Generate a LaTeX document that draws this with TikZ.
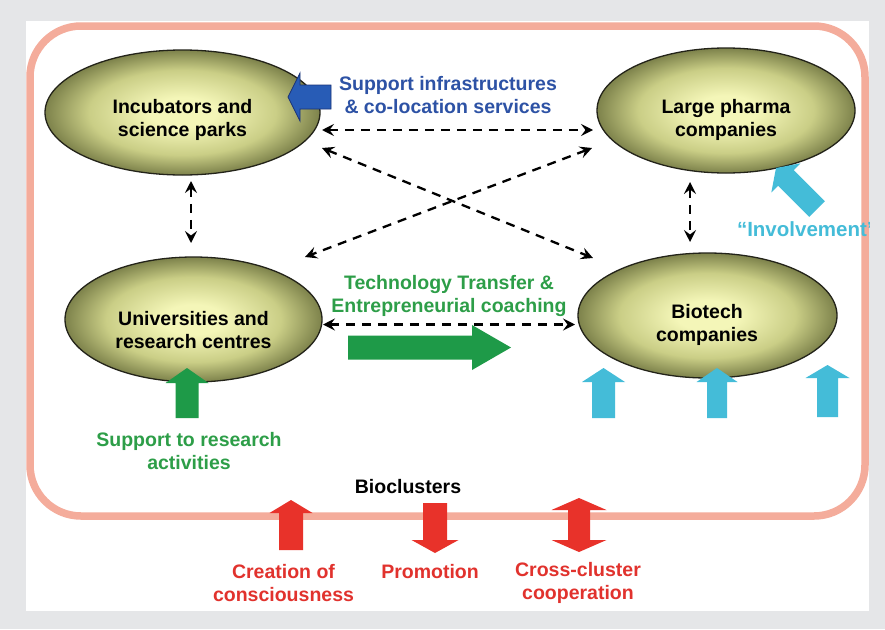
\documentclass[tikz,border=0pt]{standalone}
\usepackage{fontspec}
\setmainfont{Liberation Sans}
\usetikzlibrary{arrows.meta,shapes.geometric,calc}
\definecolor{bg}{RGB}{229,230,232}
\definecolor{band}{RGB}{244,172,155}
\definecolor{ellin}{RGB}{244,246,184}
\definecolor{ellmid}{RGB}{202,206,134}
\definecolor{ellout}{RGB}{125,130,75}
\definecolor{ellline}{RGB}{35,35,25}
\definecolor{bluetxt}{RGB}{45,82,165}
\definecolor{bluearr}{RGB}{40,92,182}
\definecolor{blueedge}{RGB}{25,50,120}
\definecolor{greentxt}{RGB}{45,158,72}
\definecolor{greenarr}{RGB}{30,154,72}
\definecolor{cyanarr}{RGB}{68,188,216}
\definecolor{redarr}{RGB}{232,50,42}
\definecolor{redtxt}{RGB}{225,50,45}
\pgfdeclareradialshading{ellshade}{\pgfpoint{0bp}{0bp}}{color(0bp)=(ellin); color(6bp)=(ellin); color(17bp)=(ellmid); color(25bp)=(ellout); color(50bp)=(ellout)}
\tikzset{
  pics/barrow/.style n args={4}{code={%
    \path[pic actions] (-#4,0) -- (-#4,-#1+#2) -- (-#3,-#1+#2) -- (0,-#1) -- (#3,-#1+#2) -- (#4,-#1+#2) -- (#4,0) -- cycle;}},
  pics/dbarrow/.style n args={4}{code={%
    \path[pic actions] (0,0) -- (-#3,-#2) -- (-#4,-#2) -- (-#4,-#1+#2) -- (-#3,-#1+#2) -- (0,-#1) -- (#3,-#1+#2) -- (#4,-#1+#2) -- (#4,-#2) -- (#3,-#2) -- cycle;}}
}
\begin{document}
\begin{tikzpicture}[x=1pt,y=-1pt,
  every node/.style={font=\fontsize{19.5}{23}\selectfont\bfseries, align=center, inner sep=0pt, outer sep=0pt},
  ell/.style={ellipse, draw=ellline, line width=1.3pt, shade, shading=ellshade, inner sep=0pt, outer sep=0pt, minimum height=125pt},
  dashconn/.style={draw=black, line width=2.3pt, dash pattern=on 9pt off 7pt, >={Stealth[length=12pt,width=12pt,inset=4.5pt]}, <->},
]
\useasboundingbox (0,0) rectangle (885,629);
\fill[bg] (0,0) rectangle (885,629);
\fill[white] (26,21) rectangle (869,611);
\draw[band, line width=7.5pt, rounded corners=51pt] (30,26) rectangle (865,516);

% ellipses
\node[ell, minimum width=275pt] (I) at (182.5,112.5) {};
\node[ell, minimum width=258pt] (P) at (726,110.5) {};
\node[ell, minimum width=257pt] (U) at (193.5,319.5) {};
\node[ell, minimum width=259pt] (B) at (707.5,315.5) {};
\node (It) at (182.5,120) {Incubators and\\science parks};
\node (Pt) at (726,119.5) {Large pharma\\companies};
\node (Ut) at (193.5,330) {Universities and\\research centres};
\node (Bt) at (707,325) {Biotech\\companies};

% dashed connectors
\draw[dashconn] ($(I)+(139.5,17.5)$) -- ($(P)+(-133,19.5)$);
\draw[dashconn] ($(I)+(139.5,35.5)$) -- ($(B)+(-114.5,-57.5)$);
\draw[dashconn] ($(P)+(-134,37.5)$) -- ($(U)+(111.5,-62.5)$);
\draw[dashconn] ($(I)+(8.5,68.5)$) -- ($(U)+(-2.5,-76.5)$);
\draw[dashconn] ($(P)+(-36,71.5)$) -- ($(B)+(-17.5,-73.5)$);
\draw[dashconn] ($(U)+(129.5,5)$) -- ($(B)+(-132.5,9)$);

% block arrows
\pic[fill=bluearr, draw=blueedge, line width=0.8pt, rotate=90] at (331,97) {barrow={43}{12}{24}{12}};
\pic[fill=greenarr, rotate=-90] at (348,347.5) {barrow={163}{39}{22.5}{12}};
\pic[fill=greenarr] at (187,418) {barrow={50}{15}{21.5}{11.5}};
\pic[fill=cyanarr] at (603.5,418) {barrow={50}{14}{21.5}{11.5}};
\pic[fill=cyanarr] at (717,418) {barrow={50}{14}{20.5}{10}};
\pic[fill=cyanarr] at (827.5,417) {barrow={52}{13}{22}{10.5}};
\pic[fill=cyanarr, rotate=45] at (817,209) {barrow={58}{14}{20.6}{11}};
\pic[fill=redarr] at (291,550) {barrow={50}{13}{21.5}{12}};
\pic[fill=redarr, rotate=180] at (435,503) {barrow={50}{13}{23.5}{12}};
\pic[fill=redarr] at (579,552) {dbarrow={54}{12}{27.5}{11}};

% labels
\node[text=bluetxt] (Lsup) at (448,95) {Support infrastructures\\\& co-location services};
\node[text=greentxt] (Ltt) at (449,296) {Technology Transfer \&\\Entrepreneurial coaching};
\node[text=greentxt] (Lres) at (189,451) {Support to research\\activities};
\node (Lbio) at (408,487) {Bioclusters};
\node[text=redtxt] (Lcre) at (283.5,583) {Creation of\\consciousness};
\node[text=redtxt] (Lpro) at (430,572) {Promotion};
\node[text=redtxt] (Lcro) at (578,583) {Cross-cluster\\cooperation};
\begin{scope}
\clip (26,21) rectangle (869,611);
\node[text=cyanarr, anchor=west, font=\fontsize{20.5}{23}\selectfont\bfseries] (Linv) at (737,229) {“Involvement”};
\end{scope}
\end{tikzpicture}
\end{document}
